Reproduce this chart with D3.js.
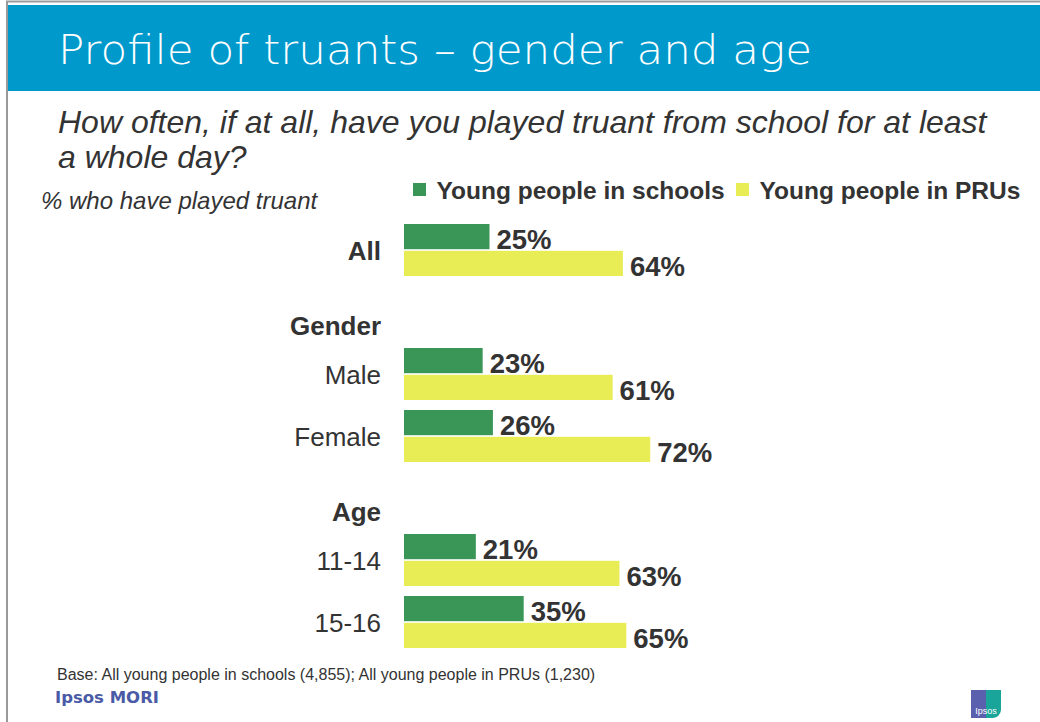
<!DOCTYPE html>
<html>
<head>
<meta charset="utf-8">
<script src="https://cdn.jsdelivr.net/npm/d3@7"></script>
<style>
  html, body { margin: 0; padding: 0; background: #fff; }
  svg { display: block; }
</style>
</head>
<body>
<svg id="chart" width="1040" height="722"></svg>
<script>
// Row layout: group headers have no bars
const rows = ["All", "Gender", "Male", "Female", "Age", "11-14", "15-16"];
const headerRows = ["Gender", "Age"];
const boldRows = ["All", "Gender", "Age"];
const seriesNames = ["Young people in schools", "Young people in PRUs"];
const schools = { "All": 25, "Male": 23, "Female": 26, "11-14": 21, "15-16": 35 };
const prus = { "All": 64, "Male": 61, "Female": 72, "11-14": 63, "15-16": 65 };
const colors = ["#3a9657", "#e8ec55"];

const svg = d3.select("#chart");
const font = "'Liberation Sans', Arial, sans-serif";

// Frame and header band
svg.append("rect").attr("x", 7).attr("y", 1.5).attr("width", 1040).attr("height", 730)
  .attr("fill", "none").attr("stroke", "#9a9a9a").attr("stroke-width", 2);
svg.append("rect").attr("x", 8).attr("y", 5).attr("width", 1032).attr("height", 86).attr("fill", "#0099cc");
svg.append("text").attr("x", 58).attr("y", 64)
  .attr("font-family", "'DejaVu Sans', Verdana, sans-serif").attr("font-weight", 300)
  .attr("font-size", 40).attr("fill", "#fff")
  .attr("textLength", 754).attr("lengthAdjust", "spacingAndGlyphs")
  .text("Profile of truants – gender and age");

// Question
const q = svg.append("text").attr("font-family", font).attr("font-style", "italic")
  .attr("font-size", 32).attr("fill", "#333");
q.append("tspan").attr("x", 58).attr("y", 133)
  .text("How often, if at all, have you played truant from school for at least");
q.append("tspan").attr("x", 58).attr("y", 168).text("a whole day?");

svg.append("text").attr("x", 41).attr("y", 209).attr("font-family", font)
  .attr("font-style", "italic").attr("font-size", 24).attr("fill", "#333")
  .text("% who have played truant");

// Scales
const x = d3.scaleLinear().domain([0, 100]).range([404, 746]);
const y = d3.scaleBand().domain(rows).range([219, 653]).paddingInner(0).paddingOuter(0);
const sub = d3.scaleBand().domain([0, 1]).range([0, 52]).paddingInner(0.06);
const barOff = (y.bandwidth() - 52) / 2;

// Legend
const legendX = [413, 736];
seriesNames.forEach((name, i) => {
  const g = svg.append("g").attr("transform", `translate(${legendX[i]},0)`);
  g.append("rect").attr("x", 0).attr("y", 183).attr("width", 13).attr("height", 13).attr("fill", colors[i]);
  g.append("text").attr("x", 23.5).attr("y", 199).attr("font-family", font)
    .attr("font-weight", "bold").attr("font-size", 24.5).attr("fill", "#333").text(name);
});

// Category labels
svg.append("g").selectAll("text").data(rows).join("text")
  .attr("x", 381)
  .attr("y", d => headerRows.includes(d) ? y(d) + y.bandwidth() / 2 + 14 : y(d) + y.bandwidth() / 2 + 1)
  .attr("dy", "0.35em").attr("text-anchor", "end")
  .attr("font-family", font).attr("font-size", 26)
  .attr("font-weight", d => boldRows.includes(d) ? "bold" : "normal")
  .attr("fill", "#333").text(d => d);

// Bars
const dataRows = rows.filter(r => !headerRows.includes(r));
const bars = [];
dataRows.forEach(r => {
  bars.push({ row: r, s: 0, v: schools[r] });
  bars.push({ row: r, s: 1, v: prus[r] });
});

const gBars = svg.append("g");
gBars.selectAll("rect").data(bars).join("rect")
  .attr("x", x(0))
  .attr("y", d => y(d.row) + barOff + sub(d.s))
  .attr("width", d => x(d.v) - x(0))
  .attr("height", sub.bandwidth())
  .attr("fill", d => colors[d.s]);

gBars.selectAll("text").data(bars).join("text")
  .attr("x", d => x(d.v) + 7)
  .attr("y", d => y(d.row) + barOff + sub(d.s) + sub.bandwidth() / 2 + 3)
  .attr("dy", "0.35em")
  .attr("font-family", font).attr("font-weight", "bold").attr("font-size", 27.5)
  .attr("fill", "#333").text(d => d.v + "%");

// Footer
svg.append("text").attr("x", 57).attr("y", 680).attr("font-family", font)
  .attr("font-size", 16).attr("fill", "#333")
  .text("Base: All young people in schools (4,855); All young people in PRUs (1,230)");
svg.append("text").attr("x", 55).attr("y", 703).attr("font-family", "'DejaVu Sans', Verdana, sans-serif")
  .attr("font-weight", "bold").attr("font-size", 16).attr("fill", "#4a5aa6")
  .attr("textLength", 104).attr("lengthAdjust", "spacingAndGlyphs").text("Ipsos MORI");

// Small logo mark
const logo = svg.append("g").attr("transform", "translate(971,690)");
logo.append("rect").attr("width", 15).attr("height", 28).attr("fill", "#5a5fae");
logo.append("path").attr("d", "M15,0 H30 V20 Q29,27 22,28 H15 Z").attr("fill", "#1aa59a");
logo.append("text").attr("x", 15).attr("y", 24).attr("text-anchor", "middle")
  .attr("font-family", font).attr("font-size", 9).attr("fill", "#fff").text("Ipsos");
</script>
</body>
</html>
